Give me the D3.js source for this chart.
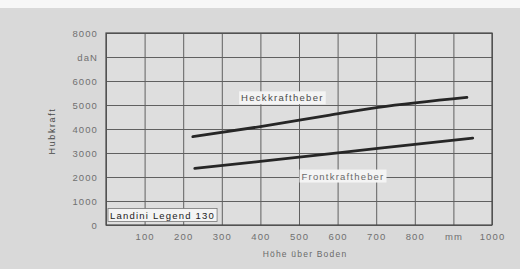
<!DOCTYPE html>
<html>
<head>
<meta charset="utf-8">
<script src="https://cdn.jsdelivr.net/npm/d3@7"></script>
<style>
  html, body { margin: 0; padding: 0; background: #dadada; }
  svg { display: block; }
  text { font-family: "Liberation Sans", Arial, sans-serif; }
</style>
</head>
<body>
<script>
// Hubkraft (daN) over Höhe über Boden (mm)
const heckX = [225, 400, 580, 705, 935];
const heckY = [3680, 4100, 4580, 4900, 5320];
const frontX = [230, 400, 710, 950];
const frontY = [2360, 2650, 3200, 3620];

const xTicks = [100, 200, 300, 400, 500, 600, 700, 800, 900, 1000];
const xTickLabels = ["100", "200", "300", "400", "500", "600", "700", "800", "mm", "1000"];
const yTicks = [0, 1000, 2000, 3000, 4000, 5000, 6000, 7000, 8000];
const yTickLabels = ["0", "1000", "2000", "3000", "4000", "5000", "6000", "daN", "8000"];

const width = 520, height = 269;
const plotL = 106, plotR = 492, plotT = 33, plotB = 225;

const svg = d3.select("body").append("svg")
  .attr("width", width)
  .attr("height", height);

// scanned page look
svg.append("rect").attr("width", width).attr("height", height).attr("fill", "#d9d9d9");
svg.append("rect").attr("width", width).attr("height", 8).attr("fill", "#f7f7f7");

const x = d3.scaleLinear().domain([0, 1000]).range([plotL, plotR]);
const y = d3.scaleLinear().domain([0, 8000]).range([plotB, plotT]);

svg.append("rect")
  .attr("x", plotL).attr("y", plotT)
  .attr("width", plotR - plotL).attr("height", plotB - plotT)
  .attr("fill", "#dedede");

// grid
const xGrid = svg.append("g")
  .attr("transform", `translate(0,${plotB})`)
  .call(d3.axisBottom(x).tickValues([0].concat(xTicks)).tickSize(-(plotB - plotT)).tickFormat(""));
const yGrid = svg.append("g")
  .attr("transform", `translate(${plotL},0)`)
  .call(d3.axisLeft(y).tickValues(yTicks).tickSize(-(plotR - plotL)).tickFormat(""));
[xGrid, yGrid].forEach(g => {
  g.select(".domain").remove();
  g.selectAll("line").attr("stroke", "#606060").attr("stroke-width", 1);
});

svg.append("rect")
  .attr("x", plotL).attr("y", plotT)
  .attr("width", plotR - plotL).attr("height", plotB - plotT)
  .attr("fill", "none").attr("stroke", "#4a4a4a").attr("stroke-width", 1.2);

// tick labels
const xAxis = svg.append("g")
  .attr("transform", `translate(0,${plotB})`)
  .call(d3.axisBottom(x).tickValues(xTicks).tickSize(0).tickPadding(8)
    .tickFormat((d, i) => xTickLabels[i]));
const yAxis = svg.append("g")
  .attr("transform", `translate(${plotL},0)`)
  .call(d3.axisLeft(y).tickValues(yTicks).tickSize(0).tickPadding(8)
    .tickFormat((d, i) => yTickLabels[i]));
[xAxis, yAxis].forEach(g => {
  g.select(".domain").remove();
  g.selectAll("text")
    .attr("fill", "#707070")
    .style("font-size", "9.5px")
    .style("letter-spacing", "1.1px")
    .style("font-family", "'Liberation Sans', Arial, sans-serif");
});

// axis titles
svg.append("text")
  .attr("transform", "translate(55,131) rotate(-90)")
  .attr("text-anchor", "middle")
  .attr("fill", "#4a4a4a")
  .style("font-size", "9px")
  .style("letter-spacing", "1.6px")
  .text("Hubkraft");

svg.append("text")
  .attr("x", 305).attr("y", 257)
  .attr("text-anchor", "middle")
  .attr("fill", "#6a6a6a")
  .style("font-size", "8.5px")
  .style("letter-spacing", "1.2px")
  .text("Höhe über Boden");

// curves
const line = d3.line().x(d => x(d[0])).y(d => y(d[1])).curve(d3.curveMonotoneX);
[[heckX, heckY], [frontX, frontY]].forEach(([xs, ys]) => {
  svg.append("path")
    .datum(xs.map((v, i) => [v, ys[i]]))
    .attr("d", line)
    .attr("fill", "none")
    .attr("stroke", "#262626")
    .attr("stroke-width", 2.8)
    .attr("stroke-linecap", "round");
});

// labels with white backing
function boxedLabel(cx, cy, txt, color, size, spacing, anchor, border) {
  const g = svg.append("g");
  const t = g.append("text")
    .attr("x", cx).attr("y", cy)
    .attr("text-anchor", anchor)
    .attr("dominant-baseline", "central")
    .attr("fill", color)
    .style("font-size", size)
    .style("letter-spacing", spacing)
    .text(txt);
  const b = t.node().getBBox();
  g.insert("rect", "text")
    .attr("x", b.x - 2).attr("y", b.y - 1)
    .attr("width", b.width + 4).attr("height", b.height + 2)
    .attr("fill", "#f4f4f4")
    .attr("stroke", border ? "#777" : "none")
    .attr("stroke-width", 0.8);
}

boxedLabel(x(457), y(5300), "Heckkraftheber", "#4a4a4a", "9.5px", "1.3px", "middle", false);
boxedLabel(x(614), y(2040), "Frontkraftheber", "#6a6a6a", "9.5px", "1.2px", "middle", false);
boxedLabel(110, 215, "Landini Legend 130", "#222", "9.5px", "1.2px", "start", true);
</script>
</body>
</html>
